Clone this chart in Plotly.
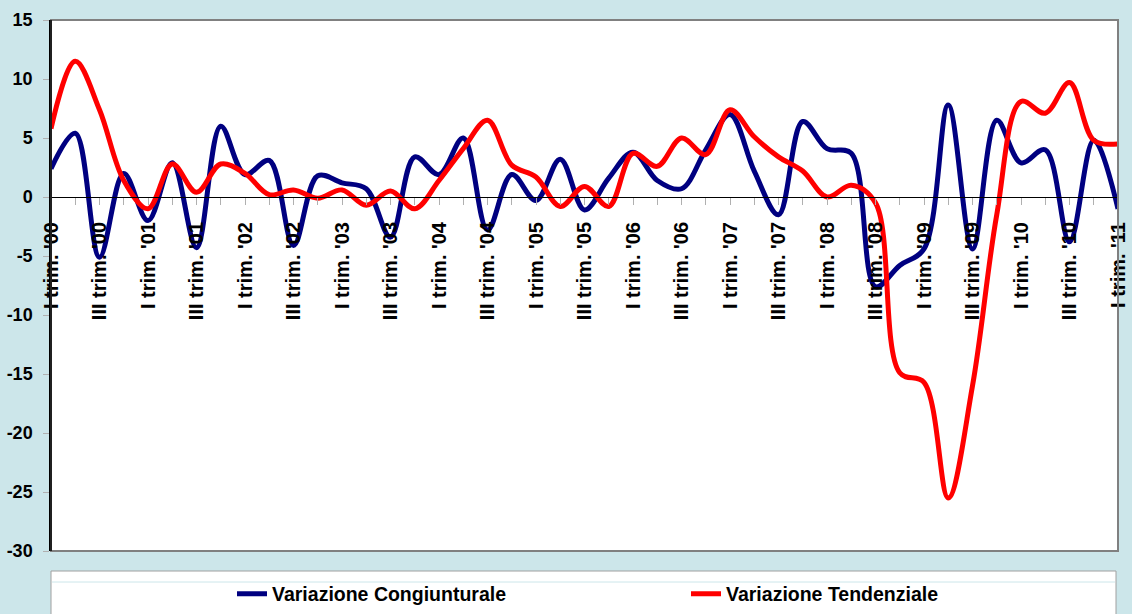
import plotly.graph_objects as go

quarters = ["I", "II", "III", "IV"]
years = ["'00", "'01", "'02", "'03", "'04", "'05", "'06", "'07", "'08", "'09", "'10", "'11"]
categories = [f"{q} trim. {y}" for y in years[:-1] for q in quarters] + ["I trim. '11"]

congiunturale = [2.4, 5.4, -5.1, 2.0, -2.0, 2.9, -4.3, 6.0, 1.9, 3.1,
                 -4.1, 1.8, 1.2, 0.7, -3.4, 3.4, 1.9, 5.0, -2.8, 1.9,
                 -0.3, 3.2, -1.1, 1.6, 3.8, 1.4, 0.7, 4.0, 7.0, 2.2,
                 -1.5, 6.4, 4.1, 3.7, -7.6, -5.8, -4.4, 7.8, -4.4, 6.5,
                 2.9, 4.0, -3.8, 4.8, -1.0]
tendenziale = [5.8, 11.5, 7.4, 1.4, -1.0, 2.8, 0.4, 2.8, 2.0, 0.2,
               0.6, -0.1, 0.6, -0.7, 0.5, -1.0, 1.4, 4.1, 6.5, 2.7,
               1.7, -0.8, 0.9, -0.8, 3.7, 2.6, 5.0, 3.6, 7.4, 5.1,
               3.4, 2.2, 0.0, 1.0, -0.5, -14.9, -15.7, -25.5, -16.0, -1.5,
               8.1, 7.1, 9.7, 4.8, 4.5]
tick_text = [c if c.startswith("I trim") or c.startswith("III trim") else "" for c in categories]

y_ticks = [15, 10, 5, 0, -5, -10, -15, -20, -25, -30]
y_tick_text = [str(v) for v in y_ticks]

BG = "rgb(204,230,234)"
FONT = "Liberation Sans, Arial, sans-serif"
L, R, T, B = 51, 14, 20, 63
PW, PH = 1132 - L - R, 614 - T - B

def px_x(px):
    return (px - L) / PW

def px_y(py):
    return (614 - B - py) / PH

fig = go.Figure()
fig.add_trace(go.Scatter(x=categories, y=congiunturale, mode="lines",
                         name="Variazione Congiunturale", legend="legend",
                         line=dict(color="#000080", width=5, shape="spline", smoothing=1)))
fig.add_trace(go.Scatter(x=categories, y=tendenziale, mode="lines",
                         name="Variazione Tendenziale", legend="legend2",
                         line=dict(color="#FF0000", width=5, shape="spline", smoothing=1)))

legend_style = dict(orientation="h", xanchor="left", yanchor="middle",
                    bgcolor="rgba(0,0,0,0)", borderwidth=0,
                    font=dict(family=FONT, size=19.5, weight="bold", color="black"))

fig.update_layout(
    width=1132, height=614,
    margin=dict(l=L, r=R, t=T, b=B, autoexpand=False),
    paper_bgcolor=BG, plot_bgcolor="white",
    font=dict(family=FONT, color="black"),
    showlegend=True,
    legend=dict(x=px_x(232), y=px_y(594), **legend_style),
    legend2=dict(x=px_x(686), y=px_y(594), **legend_style),
    xaxis=dict(type="category", range=[0, len(categories) - 1],
               tickmode="array", tickvals=categories, ticktext=tick_text,
               tickangle=-90, anchor="free", position=30 / 45,
               showline=True, linecolor="black", linewidth=1,
               ticks="outside", ticklen=7, tickcolor="#b0b0b0", tickwidth=1,
               ticklabelstandoff=9, automargin=False,
               showgrid=False, zeroline=False,
               tickfont=dict(family=FONT, size=20, weight="bold", color="black")),
    yaxis=dict(range=[-30, 15], tickmode="array", tickvals=y_ticks, ticktext=y_tick_text,
               showline=True, linecolor="black", linewidth=1.5,
               ticks="outside", ticklen=6, tickcolor="#b0b0b0",
               ticklabelstandoff=7,
               showgrid=False, zeroline=False, automargin=False,
               tickfont=dict(family=FONT, size=18, weight="bold", color="black")),
    shapes=[
        dict(type="rect", xref="paper", yref="paper", x0=0, x1=1, y0=0, y1=1,
             line=dict(color="#808080", width=2), layer="above"),
        dict(type="line", xref="paper", yref="paper", x0=0, x1=0, y0=0, y1=1,
             line=dict(color="black", width=1.5), layer="above"),
        dict(type="rect", xref="paper", yref="paper",
             x0=px_x(51), x1=px_x(1116), y0=px_y(640), y1=px_y(571),
             line=dict(color="#a0a0a0", width=1), fillcolor="white", layer="below"),
        dict(type="line", xref="paper", yref="paper",
             x0=px_x(52), x1=px_x(1115), y0=px_y(582), y1=px_y(582),
             line=dict(color=BG, width=1), layer="below"),
    ],
)

fig.write_html("out.html",
               config={"displayModeBar": False},
               post_script="document.body.style.margin='0';document.body.style.overflow='hidden';")
